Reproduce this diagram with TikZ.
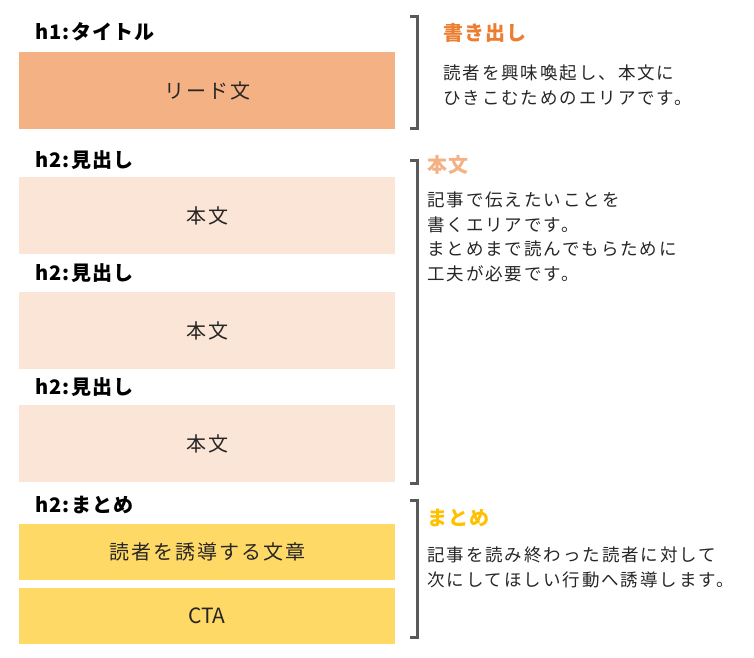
\documentclass[tikz,border=0pt]{standalone}
\usepackage{fontspec}
\setmainfont{Noto Sans CJK JP}
\newfontfamily\descfont[LetterSpace=11]{Noto Sans CJK JP}
\newfontfamily\boxfont[LetterSpace=10]{Noto Sans CJK JP}
\newfontfamily\lblfont[LetterSpace=6]{Noto Sans CJK JP}
\definecolor{leadc}{HTML}{F4B183}
\definecolor{bodyc}{HTML}{FBE5D6}
\definecolor{sumc}{HTML}{FFD966}
\definecolor{headA}{HTML}{ED7D31}
\definecolor{headB}{HTML}{F4B183}
\definecolor{headC}{HTML}{FFC000}
\definecolor{brk}{HTML}{595959}
\definecolor{txt}{HTML}{262626}
\tikzset{
  blockbox/.style={rectangle, inner sep=0pt, minimum width=376pt, minimum height=77pt, font=\boxfont\fontsize{20}{24}\selectfont, text=txt},
  smallbox/.style={blockbox, minimum height=56pt},
  lbl/.style={anchor=west, inner sep=0pt, font=\lblfont\fontsize{20}{24}\selectfont\bfseries},
  headtxt/.style={anchor=west, inner sep=0pt, font=\lblfont\fontsize{20}{24}\selectfont\bfseries},
  desc/.style={anchor=north west, inner sep=0pt, align=left, text=txt, font=\descfont\fontsize{17.5}{24.5}\selectfont},
  bracketline/.style={draw=brk, line width=3pt}
}
\begin{document}
\begin{tikzpicture}[x=1pt,y=-1pt]
\useasboundingbox (0,0) rectangle (754,657);
% left column
\node[lbl] (l1) at (35,32) {h1:タイトル};
\node[blockbox, fill=leadc] (lead) at (207,90.5) {リード文};
\node[lbl] (l2) at (35,160) {h2:見出し};
\node[blockbox, fill=bodyc] (b1) at (207,215.5) {本文};
\node[lbl] (l3) at (35,273) {h2:見出し};
\node[blockbox, fill=bodyc] (b2) at (207,330.5) {本文};
\node[lbl] (l4) at (35,387) {h2:見出し};
\node[blockbox, fill=bodyc] (b3) at (207,443.5) {本文};
\node[lbl] (l5) at (35,505) {h2:まとめ};
\node[smallbox, fill=sumc] (s1) at (207,552) {読者を誘導する文章};
\node[smallbox, fill=sumc, font=\fontsize{21}{24}\selectfont] (s2) at (207,616) {CTA};
% brackets
\draw[bracketline] (410,16) -- (417,16) -- (417,128.5) -- (410,128.5);
\draw[bracketline] (410,160) -- (417,160) -- (417,483) -- (410,483);
\draw[bracketline] (410,500) -- (417,500) -- (417,637) -- (410,637);
% right texts
\node[headtxt, text=headA] (h1) at (443,33) {書き出し};
\node[desc] (d1) at (443,65) {読者を興味喚起し、本文に\\ひきこむためのエリアです。};
\node[headtxt, text=headB] (h2) at (427,165) {本文};
\node[desc] (d2) at (427,192) {記事で伝えたいことを\\書くエリアです。\\まとめまで読んでもらために\\工夫が必要です。};
\node[headtxt, text=headC] (h3) at (427,518) {まとめ};
\node[desc] (d3) at (427,547) {記事を読み終わった読者に対して\\次にしてほしい行動へ誘導します。};
\end{tikzpicture}
\end{document}
